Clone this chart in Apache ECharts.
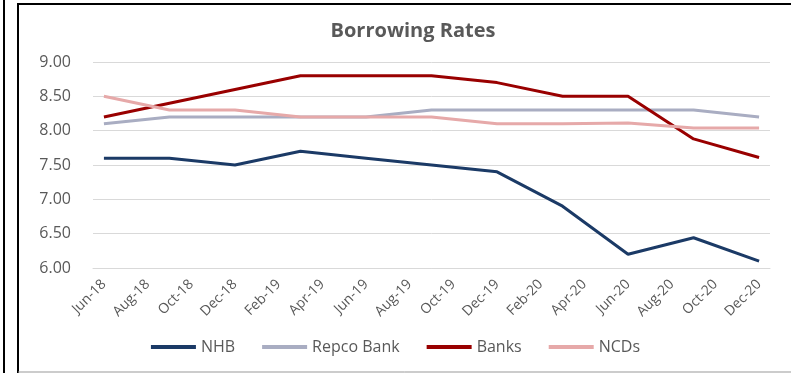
<!DOCTYPE html>
<html>
<head>
<meta charset="utf-8">
<script src="https://cdn.jsdelivr.net/npm/echarts@6/dist/echarts.min.js"></script>
<style>
html,body{margin:0;padding:0;background:#fff;}
#chart{width:791px;height:373px;}
</style>
</head>
<body>
<div id="chart"></div>
<script>
// Monthly category axis (Jun-18 .. Dec-20)
const months = ['Jun-18','Jul-18','Aug-18','Sep-18','Oct-18','Nov-18','Dec-18','Jan-19','Feb-19','Mar-19','Apr-19','May-19','Jun-19','Jul-19','Aug-19','Sep-19','Oct-19','Nov-19','Dec-19','Jan-20','Feb-20','Mar-20','Apr-20','May-20','Jun-20','Jul-20','Aug-20','Sep-20','Oct-20','Nov-20','Dec-20'];
// Observation dates (quarterly)
const obsDates = ['Jun-18','Sep-18','Dec-18','Mar-19','Jun-19','Sep-19','Dec-19','Mar-20','Jun-20','Sep-20','Dec-20'];
const nhb   = [7.60, 7.60, 7.50, 7.70, 7.60, 7.50, 7.40, 6.90, 6.20, 6.44, 6.10];
const repco = [8.10, 8.20, 8.20, 8.20, 8.20, 8.30, 8.30, 8.30, 8.30, 8.30, 8.20];
const banks = [8.20, 8.40, 8.60, 8.80, 8.80, 8.80, 8.70, 8.50, 8.50, 7.88, 7.61];
const ncds  = [8.50, 8.30, 8.30, 8.20, 8.20, 8.20, 8.10, 8.10, 8.11, 8.04, 8.04];
const yTicks = ['6.00','6.50','7.00','7.50','8.00','8.50','9.00'];

function toMonthly(vals){
  return months.map(m => { const i = obsDates.indexOf(m); return i >= 0 ? vals[i] : null; });
}

const FONT = 'Open Sans';
const chart = echarts.init(document.getElementById('chart'));
const mk = (name, vals, color) => ({
  name, type:'line', data: toMonthly(vals), connectNulls:true, showSymbol:false, symbol:'none',
  lineStyle:{color, width:3}, itemStyle:{color}, animation:false
});
chart.setOption({
  animation:false,
  backgroundColor:'#fff',
  title:{text:'Borrowing Rates', left:408, top:16, textAlign:'center',
    textStyle:{fontFamily:FONT, fontWeight:'bold', fontSize:20, color:'#595959'}},
  grid:{left:93, right:21, top:62, bottom:105},
  legend:{bottom:13, left:'center', itemWidth:45, itemHeight:4, itemGap:27, icon:'rect',
    textStyle:{fontFamily:FONT, fontSize:16, color:'#595959'},
    data:['NHB','Repco Bank','Banks','NCDs']},
  xAxis:{type:'category', data:months, boundaryGap:true,
    axisLine:{lineStyle:{color:'#d9d9d9', width:1}},
    axisTick:{interval:1, length:5, lineStyle:{color:'#d9d9d9'}},
    axisLabel:{interval:1, rotate:45, margin:14, fontFamily:FONT, fontSize:14, color:'#595959'}},
  yAxis:{type:'value', min:6, max:9, interval:0.5,
    axisLabel:{fontFamily:FONT, fontSize:16, color:'#595959', margin:22,
      formatter: v => yTicks[Math.round((v-6)/0.5)]},
    splitLine:{lineStyle:{color:'#d9d9d9'}}, axisLine:{show:false}, axisTick:{show:false}},
  series:[
    mk('NHB', nhb, '#1b3a66'),
    mk('Repco Bank', repco, '#a9adc2'),
    mk('Banks', banks, '#990000'),
    mk('NCDs', ncds, '#e6a9a9')
  ],
  graphic:[
    {type:'line', shape:{x1:4,y1:0,x2:4,y2:373}, style:{stroke:'#000', lineWidth:2}},
    {type:'line', shape:{x1:18,y1:4,x2:18,y2:373}, style:{stroke:'#000', lineWidth:2}},
    {type:'line', shape:{x1:17,y1:4,x2:791,y2:4}, style:{stroke:'#000', lineWidth:2}},
    {type:'line', shape:{x1:18,y1:372,x2:791,y2:372}, style:{stroke:'#999', lineWidth:1}}
  ]
});
</script>
</body>
</html>
